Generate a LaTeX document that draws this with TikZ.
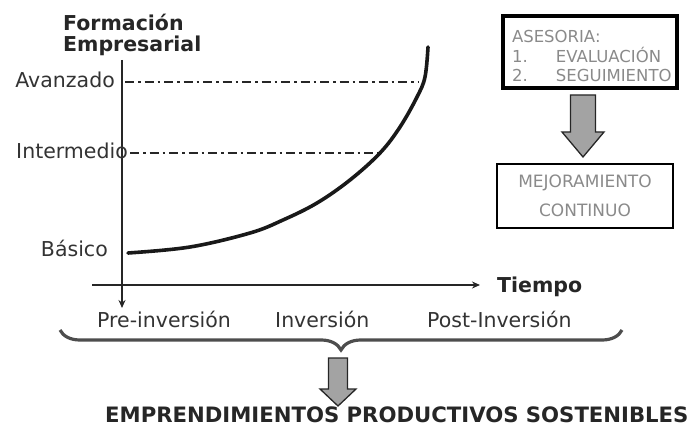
\documentclass[tikz,border=0pt]{standalone}
\usepackage{fontspec}
\setmainfont{DejaVu Sans}
\usepackage{xcolor}
\usetikzlibrary{positioning,calc,decorations.pathreplacing,arrows.meta}
\definecolor{softGray}{HTML}{8A8A8A}
\definecolor{arrowGray}{HTML}{A3A3A3}
\definecolor{braceGray}{HTML}{4D4D4D}
\tikzstyle{nodeLevel}=[anchor=base east, inner sep=0pt, font=\fontsize{20.5}{24}\selectfont, text=black!80]
\tikzstyle{nodePhase}=[anchor=base west, inner sep=0pt, font=\fontsize{20.5}{24}\selectfont, text=black!80]
\tikzstyle{nodeTitle}=[anchor=base west, inner sep=0pt, font=\bfseries\fontsize{20.5}{24}\selectfont, text=black!85]
\tikzstyle{nodeBox}=[draw, rectangle, text=softGray, inner sep=0pt]
\tikzstyle{lineLevel}=[line width=2.5pt, dash pattern=on 9pt off 4pt on 2.5pt off 4pt, black!85]
\tikzstyle{lineAxis}=[line width=2.4pt, black!85]
\tikzstyle{blockArrow}=[fill=arrowGray, draw=black!85, line width=1.3pt, line join=miter]

\begin{document}
\begin{tikzpicture}[x=1pt, y=-1pt]
  \useasboundingbox (0,0) rectangle (693,427);
  % axes
  \coordinate (yTop) at (122,60);
  \coordinate (yEnd) at (122,308);
  \coordinate (xStart) at (92,285);
  \coordinate (xEnd) at (480,285);
  \draw[lineAxis, -{Stealth[length=8pt,width=7pt]}] (yTop) -- (yEnd);
  \draw[lineAxis, -{Stealth[length=8pt,width=7pt]}] (xStart) -- (xEnd);
  \node[nodeTitle] (form) at (63,31) {Formación};
  \node[nodeTitle] (empr) at (63,52) {Empresarial};
  \node[nodeTitle] (tiempo) at (497,293) {Tiempo};
  % levels
  \node[nodeLevel] (avanz) at (115,88) {Avanzado};
  \node[nodeLevel] (inter) at (128,159) {Intermedio};
  \node[nodeLevel] (basic) at (108,257) {Básico};
  \coordinate (avanzA) at (125,82);
  \coordinate (avanzB) at (418,82);
  \coordinate (interA) at (130,153);
  \coordinate (interB) at (378,153);
  \draw[lineLevel] (avanzA) -- (avanzB);
  \draw[lineLevel] (interA) -- (interB);
  % curve
  \draw[line width=3.6pt, black!90, line cap=round] plot[smooth, tension=0.6] coordinates
    {(128,253) (190,247) (250,233) (283,220) (317,203) (350,180) (380,153)
     (400,127) (417,97) (425,77) (428,47)};
  % phases
  \node[nodePhase] (pre) at (97,327) {Pre-inversión};
  \node[nodePhase] (inv) at (275,327) {Inversión};
  \node[nodePhase] (post) at (427,327) {Post-Inversión};
  \coordinate (braceL) at (60,330);
  \coordinate (braceR) at (622,330);
  \draw[braceGray, line width=3.2pt, decorate, decoration={brace, mirror, amplitude=20pt}] (braceL) -- (braceR);
  % boxes
  \node[nodeBox, line width=3.5pt, minimum width=174pt, minimum height=72pt,
        font=\fontsize{16.5}{19.5}\selectfont, align=left, text width=156pt] (ases) at (590,52)
    {\rule{0pt}{21pt}ASESORIA:\\\makebox[44pt][l]{1.}EVALUACIÓN\\\makebox[44pt][l]{2.}SEGUIMIENTO};
  \node[nodeBox, line width=2.5pt, minimum width=176pt, minimum height=64pt,
        font=\fontsize{17}{29}\selectfont, align=center] (mejora) at (585,196)
    {MEJORAMIENTO\\CONTINUO};
  \node[nodeTitle, font=\bfseries\fontsize{21.2}{24}\selectfont] (empren) at (105,422)
    {EMPRENDIMIENTOS PRODUCTIVOS SOSTENIBLES};
  % block arrows
  \coordinate (arrTopA) at (583,95);
  \coordinate (arrTipA) at (583,157);
  \coordinate (arrTopB) at (338,358);
  \coordinate (arrTipB) at (338,406);
  \draw[blockArrow] let \p1=(arrTopA), \p2=(arrTipA) in
    (\x1-12.5pt,\y1) -- (\x1+12.5pt,\y1) -- (\x1+12.5pt,\y2+25pt) -- (\x1+21pt,\y2+25pt)
    -- (\x1,\y2) -- (\x1-21pt,\y2+25pt) -- (\x1-12.5pt,\y2+25pt) -- cycle;
  \draw[blockArrow] let \p1=(arrTopB), \p2=(arrTipB) in
    (\x1-9.5pt,\y1) -- (\x1+9.5pt,\y1) -- (\x1+9.5pt,\y2+17pt) -- (\x1+18pt,\y2+17pt)
    -- (\x1,\y2) -- (\x1-18pt,\y2+17pt) -- (\x1-9.5pt,\y2+17pt) -- cycle;
\end{tikzpicture}
\end{document}
